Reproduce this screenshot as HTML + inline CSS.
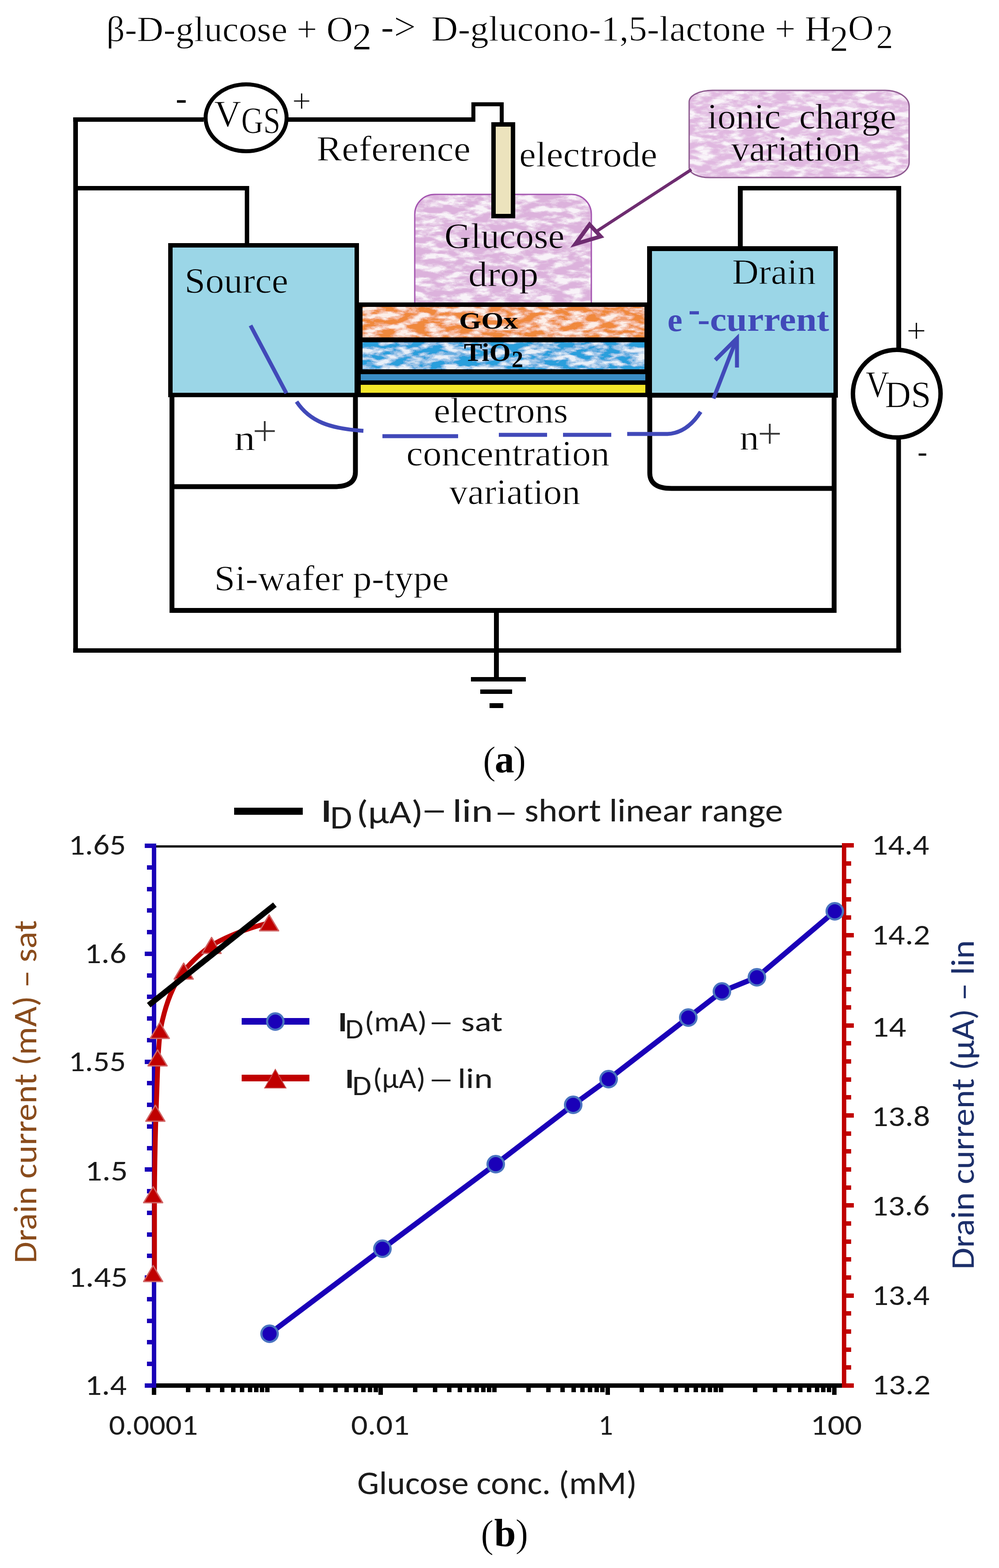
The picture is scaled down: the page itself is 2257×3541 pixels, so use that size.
<!DOCTYPE html>
<html><head><meta charset="utf-8"><title>Glucose FET sensor</title>
<style>html,body{margin:0;padding:0;background:#fff;}svg{display:block;}</style></head>
<body><svg width="2257" height="3541" viewBox="0 0 2257 3541">
<rect width="2257" height="3541" fill="#fff"/>
<defs>
<filter id="tex" x="0" y="0" width="100%" height="100%">
  <feTurbulence type="fractalNoise" baseFrequency="0.028 0.075" numOctaves="3" seed="7" result="n"/>
  <feColorMatrix in="n" type="matrix" values="0 0 0 0 1  0 0 0 0 1  0 0 0 0 1  -2.6 0 0 0 1.72" result="w"/>
  <feComponentTransfer in="w" result="w2"><feFuncA type="discrete" tableValues="0 0.12 0.32 0.55 0.8"/></feComponentTransfer>
  <feComposite in="w2" in2="SourceGraphic" operator="in" result="wc"/>
  <feMerge><feMergeNode in="SourceGraphic"/><feMergeNode in="wc"/></feMerge>
</filter>
</defs>
<text x="240.0" y="93.0" font-family="'Liberation Serif','Times New Roman',serif" font-size="80" fill="#000" font-weight="normal" text-anchor="start" textLength="557.12" lengthAdjust="spacingAndGlyphs"  stroke="#fff" stroke-width="1.0">β-D-glucose + O</text>
<text x="796.0" y="112.0" font-family="'Liberation Serif','Times New Roman',serif" font-size="87.73" fill="#000" font-weight="normal" text-anchor="start"  stroke="#fff" stroke-width="1.0">2</text>
<text x="860.6" y="90" font-family="'Liberation Serif','Times New Roman',serif" font-size="88.02" fill="#000" font-weight="normal" text-anchor="start"  stroke="#fff" stroke-width="1.0">-&gt;</text>
<text x="974.6" y="92.0" font-family="'Liberation Serif','Times New Roman',serif" font-size="80" fill="#000" font-weight="normal" text-anchor="start" textLength="903.57" lengthAdjust="spacingAndGlyphs"  stroke="#fff" stroke-width="1.0">D-glucono-1,5-lactone + H</text>
<text x="1875.0" y="115.0" font-family="'Liberation Serif','Times New Roman',serif" font-size="83.0" fill="#000" font-weight="normal" text-anchor="start"  stroke="#fff" stroke-width="1.0">2</text>
<text x="1916.0" y="90" font-family="'Liberation Serif','Times New Roman',serif" font-size="80" fill="#000" font-weight="normal" text-anchor="start"  stroke="#fff" stroke-width="1.0">O</text>
<text x="1979.6" y="109.0" font-family="'Liberation Serif','Times New Roman',serif" font-size="76.72" fill="#000" font-weight="normal" text-anchor="start"  stroke="#fff" stroke-width="1.0">2</text>
<rect x="165.5" y="265" width="294.5" height="10" fill="#000" />
<rect x="165.5" y="265" width="10.5" height="1209" fill="#000" />
<rect x="650" y="265" width="424" height="10" fill="#000" />
<rect x="1065" y="231" width="9" height="44" fill="#000" />
<rect x="1065" y="231" width="73" height="9" fill="#000" />
<rect x="1129" y="231" width="9" height="49" fill="#000" />
<rect x="165.5" y="1464" width="1870.0" height="10" fill="#000" />
<rect x="2025" y="420" width="11" height="370" fill="#000" />
<rect x="2025" y="990" width="10.5" height="484" fill="#000" />
<rect x="176" y="420" width="387" height="10" fill="#000" />
<rect x="553" y="420" width="10" height="132" fill="#000" />
<rect x="1667" y="420" width="369" height="10" fill="#000" />
<rect x="1667" y="420" width="11" height="140" fill="#000" />
<ellipse cx="556" cy="266" rx="91.5" ry="75.5" fill="#fff" stroke="#000" stroke-width="9"/>
<circle cx="2026" cy="889" r="99" fill="#fff" stroke="#000" stroke-width="10"/>
<path d="M1610 204 L2000 204 A54 36 0 0 1 2054 240 L2054 366 A50 35 0 0 1 2004 401 L1603 401 A46 22 0 0 1 1557 379 L1557 230 A53 26 0 0 1 1610 204 Z" fill="#e0b8e0" filter="url(#tex)"/>
<path d="M1610 204 L2000 204 A54 36 0 0 1 2054 240 L2054 366 A50 35 0 0 1 2004 401 L1603 401 A46 22 0 0 1 1557 379 L1557 230 A53 26 0 0 1 1610 204 Z" fill="none" stroke="#8e5a90" stroke-width="3"/>
<path d="M937 683 L937 484 A45 45 0 0 1 982 439 L1291 439 A45 45 0 0 1 1336 484 L1336 683 Z" fill="#dcb2dc" filter="url(#tex)"/>
<path d="M937 683 L937 484 A45 45 0 0 1 982 439 L1291 439 A45 45 0 0 1 1336 484 L1336 683" fill="none" stroke="#a455b0" stroke-width="3"/>
<rect x="1110" y="276" width="54" height="217" fill="#000" />
<rect x="1120" y="286" width="34" height="197" fill="#ece3bd" />
<rect x="380" y="549" width="431" height="348" fill="#000" />
<rect x="390" y="559" width="411" height="328" fill="#9bd6e7" />
<rect x="1462" y="556" width="431" height="342" fill="#000" />
<rect x="1473" y="567" width="410" height="320" fill="#9bd6e7" />
<rect x="811" y="683" width="651" height="214" fill="#000" />
<rect x="819" y="693" width="637" height="69" fill="#f0893c" filter="url(#tex)"/>
<rect x="819" y="773" width="637" height="61" fill="#2a9fdc" filter="url(#tex)"/>
<rect x="815" y="845" width="643" height="14" fill="#3a8cc4" />
<rect x="815" y="869" width="643" height="18" fill="#f2e62a" />
<rect x="383" y="897" width="11" height="487" fill="#000" />
<rect x="1879" y="898" width="11" height="486" fill="#000" />
<rect x="383" y="1373" width="1507" height="11" fill="#000" />
<path d="M803 897 L803 1066 Q803 1099 756 1099 L394 1099" stroke="#000" stroke-width="11" fill="none" />
<path d="M1468 897 L1468 1068 Q1468 1103 1517 1103 L1880 1103" stroke="#000" stroke-width="11" fill="none" />
<rect x="1116" y="1384" width="11" height="150" fill="#000" />
<rect x="1064" y="1529" width="124" height="10" fill="#000" />
<rect x="1085" y="1557" width="72" height="10" fill="#000" />
<rect x="1106" y="1588" width="31" height="11" fill="#000" />
<line x1="1562" y1="383" x2="1350" y2="521" stroke="#6e2c70" stroke-width="7" stroke-linecap="butt" />
<path d="M1300 551 L1332 507 L1357 534 Z" stroke="#6e2c70" stroke-width="9" fill="none" stroke-linejoin="miter"/>
<line x1="566" y1="735" x2="647" y2="888" stroke="#4149b9" stroke-width="9" stroke-linecap="butt" />
<path d="M670 907 C700 952 745 968 821 973" stroke="#4149b9" stroke-width="9" fill="none" />
<line x1="864" y1="985" x2="1035" y2="985" stroke="#4149b9" stroke-width="9" stroke-linecap="butt" />
<line x1="1127" y1="982" x2="1236" y2="982" stroke="#4149b9" stroke-width="9" stroke-linecap="butt" />
<line x1="1272" y1="982" x2="1381" y2="982" stroke="#4149b9" stroke-width="9" stroke-linecap="butt" />
<path d="M1417 980 L1508 980 Q1552 978 1583 930" stroke="#4149b9" stroke-width="9" fill="none" />
<line x1="1612" y1="900" x2="1663" y2="768" stroke="#4149b9" stroke-width="9" stroke-linecap="butt" />
<path d="M1616 813 L1665 764 L1665 830" stroke="#4149b9" stroke-width="9" fill="none" stroke-linejoin="miter"/>
<text x="397.0" y="247.0" font-family="'Liberation Serif','Times New Roman',serif" font-size="76" fill="#000" font-weight="normal" text-anchor="start" >-</text>
<text x="660.0" y="253.0" font-family="'Liberation Serif','Times New Roman',serif" font-size="76" fill="#000" font-weight="normal" text-anchor="start"  stroke="#fff" stroke-width="1.0">+</text>
<text x="484.0" y="286.0" font-family="'Liberation Serif','Times New Roman',serif" font-size="84" fill="#000" font-weight="normal" text-anchor="start" textLength="60.87" lengthAdjust="spacingAndGlyphs"  stroke="#fff" stroke-width="1.0">V</text>
<text x="545.0" y="301.0" font-family="'Liberation Serif','Times New Roman',serif" font-size="84" fill="#000" font-weight="normal" text-anchor="start" textLength="88.5" lengthAdjust="spacingAndGlyphs"  stroke="#fff" stroke-width="1.0">GS</text>
<text x="715.0" y="363.0" font-family="'Liberation Serif','Times New Roman',serif" font-size="80" fill="#000" font-weight="normal" text-anchor="start" textLength="348.14" lengthAdjust="spacingAndGlyphs"  stroke="#fff" stroke-width="1.0">Reference</text>
<text x="1173.0" y="376.0" font-family="'Liberation Serif','Times New Roman',serif" font-size="80" fill="#000" font-weight="normal" text-anchor="start" textLength="312.14" lengthAdjust="spacingAndGlyphs"  stroke="#fff" stroke-width="1.0">electrode</text>
<text x="1598.0" y="289.6" font-family="'Liberation Serif','Times New Roman',serif" font-size="80" fill="#000" font-weight="normal" text-anchor="start" textLength="427.06" lengthAdjust="spacingAndGlyphs" xml:space="preserve" stroke="#e2c0e2" stroke-width="1.0">ionic  charge</text>
<text x="1652.0" y="363.0" font-family="'Liberation Serif','Times New Roman',serif" font-size="80" fill="#000" font-weight="normal" text-anchor="start" textLength="292.03" lengthAdjust="spacingAndGlyphs"  stroke="#e2c0e2" stroke-width="1.0">variation</text>
<text x="1004.0" y="560.0" font-family="'Liberation Serif','Times New Roman',serif" font-size="80" fill="#000" font-weight="normal" text-anchor="start" textLength="271.13" lengthAdjust="spacingAndGlyphs"  stroke="#e2c0e2" stroke-width="1.0">Glucose</text>
<text x="1058.0" y="646.0" font-family="'Liberation Serif','Times New Roman',serif" font-size="80" fill="#000" font-weight="normal" text-anchor="start" textLength="158.37" lengthAdjust="spacingAndGlyphs"  stroke="#e2c0e2" stroke-width="1.0">drop</text>
<text x="417.0" y="661.0" font-family="'Liberation Serif','Times New Roman',serif" font-size="80" fill="#000" font-weight="normal" text-anchor="start" textLength="234.31" lengthAdjust="spacingAndGlyphs"  stroke="#9bd6e7" stroke-width="1.0">Source</text>
<text x="1654.0" y="641.0" font-family="'Liberation Serif','Times New Roman',serif" font-size="80" fill="#000" font-weight="normal" text-anchor="start" textLength="189.35" lengthAdjust="spacingAndGlyphs"  stroke="#9bd6e7" stroke-width="1.0">Drain</text>
<text x="1037.0" y="742.0" font-family="'Liberation Serif','Times New Roman',serif" font-size="52" fill="#000" font-weight="bold" text-anchor="start" textLength="133.03" lengthAdjust="spacingAndGlyphs" >GOx</text>
<text x="1048.0" y="815.0" font-family="'Liberation Serif','Times New Roman',serif" font-size="56" fill="#000" font-weight="bold" text-anchor="start" textLength="105.74" lengthAdjust="spacingAndGlyphs" >TiO</text>
<text x="1156" y="829" font-family="'Liberation Serif','Times New Roman',serif" font-size="52" fill="#000" font-weight="bold" text-anchor="start" >2</text>
<text x="1508.0" y="748.0" font-family="'Liberation Serif','Times New Roman',serif" font-size="76" fill="#4149b9" font-weight="bold" text-anchor="start" >e</text>
<text x="1555.0" y="726.0" font-family="'Liberation Serif','Times New Roman',serif" font-size="84" fill="#4149b9" font-weight="bold" text-anchor="start" textLength="27.0" lengthAdjust="spacingAndGlyphs" >-</text>
<text x="1576.0" y="747.0" font-family="'Liberation Serif','Times New Roman',serif" font-size="76" fill="#4149b9" font-weight="bold" text-anchor="start" textLength="297.11" lengthAdjust="spacingAndGlyphs" >-current</text>
<text x="2048.0" y="773.0" font-family="'Liberation Serif','Times New Roman',serif" font-size="79.09" fill="#000" font-weight="normal" text-anchor="start"  stroke="#fff" stroke-width="1.0">+</text>
<text x="2073.0" y="1042.0" font-family="'Liberation Serif','Times New Roman',serif" font-size="66" fill="#000" font-weight="normal" text-anchor="start" >-</text>
<text x="1956.0" y="897.0" font-family="'Liberation Serif','Times New Roman',serif" font-size="84" fill="#000" font-weight="normal" text-anchor="start" textLength="53.02" lengthAdjust="spacingAndGlyphs"  stroke="#fff" stroke-width="1.0">V</text>
<text x="1999.0" y="920.0" font-family="'Liberation Serif','Times New Roman',serif" font-size="84" fill="#000" font-weight="normal" text-anchor="start" textLength="104.57" lengthAdjust="spacingAndGlyphs"  stroke="#fff" stroke-width="1.0">DS</text>
<text x="529.0" y="1016.0" font-family="'Liberation Serif','Times New Roman',serif" font-size="80" fill="#000" font-weight="normal" text-anchor="start" textLength="47.74" lengthAdjust="spacingAndGlyphs"  stroke="#fff" stroke-width="1.0">n</text>
<text x="570.0" y="1007.0" font-family="'Liberation Serif','Times New Roman',serif" font-size="99.71" fill="#333" font-weight="normal" text-anchor="start"  stroke="#fff" stroke-width="1.0">+</text>
<text x="1671.0" y="1015.0" font-family="'Liberation Serif','Times New Roman',serif" font-size="80" fill="#000" font-weight="normal" text-anchor="start" textLength="44.0" lengthAdjust="spacingAndGlyphs"  stroke="#fff" stroke-width="1.0">n</text>
<text x="1711.0" y="1013.0" font-family="'Liberation Serif','Times New Roman',serif" font-size="99.71" fill="#333" font-weight="normal" text-anchor="start"  stroke="#fff" stroke-width="1.0">+</text>
<text x="980.0" y="954" font-family="'Liberation Serif','Times New Roman',serif" font-size="80" fill="#000" font-weight="normal" text-anchor="start" textLength="303.12" lengthAdjust="spacingAndGlyphs"  stroke="#fff" stroke-width="1.0">electrons</text>
<text x="918.0" y="1051" font-family="'Liberation Serif','Times New Roman',serif" font-size="80" fill="#000" font-weight="normal" text-anchor="start" textLength="459.14" lengthAdjust="spacingAndGlyphs"  stroke="#fff" stroke-width="1.0">concentration</text>
<text x="1015.0" y="1138" font-family="'Liberation Serif','Times New Roman',serif" font-size="80" fill="#000" font-weight="normal" text-anchor="start" textLength="296.22" lengthAdjust="spacingAndGlyphs"  stroke="#fff" stroke-width="1.0">variation</text>
<text x="484.0" y="1333.0" font-family="'Liberation Serif','Times New Roman',serif" font-size="80" fill="#000" font-weight="normal" text-anchor="start" textLength="530.09" lengthAdjust="spacingAndGlyphs"  stroke="#fff" stroke-width="1.0">Si-wafer p-type</text>
<text x="1090.8" y="1747.0" font-family="'Liberation Serif','Times New Roman',serif" font-size="88" fill="#000" font-weight="normal" text-anchor="start"  stroke="#fff" stroke-width="1.0">(</text>
<text x="1117.8" y="1744.2" font-family="'Liberation Serif','Times New Roman',serif" font-size="88" fill="#000" font-weight="bold" text-anchor="start" >a</text>
<text x="1159.2" y="1746" font-family="'Liberation Serif','Times New Roman',serif" font-size="88" fill="#000" font-weight="normal" text-anchor="start"  stroke="#fff" stroke-width="1.0">)</text>
<rect x="348" y="1909" width="1559" height="5" fill="#000" />
<rect x="343" y="3124" width="1569" height="10" fill="#000" />
<rect x="420" y="3134" width="10" height="10" fill="#000" />
<rect x="465" y="3134" width="10" height="10" fill="#000" />
<rect x="497" y="3134" width="10" height="10" fill="#000" />
<rect x="522" y="3134" width="10" height="10" fill="#000" />
<rect x="542" y="3134" width="10" height="10" fill="#000" />
<rect x="560" y="3134" width="10" height="10" fill="#000" />
<rect x="574" y="3134" width="10" height="10" fill="#000" />
<rect x="587" y="3134" width="10" height="10" fill="#000" />
<rect x="676" y="3134" width="10" height="10" fill="#000" />
<rect x="721" y="3134" width="10" height="10" fill="#000" />
<rect x="753" y="3134" width="10" height="10" fill="#000" />
<rect x="778" y="3134" width="10" height="10" fill="#000" />
<rect x="799" y="3134" width="10" height="10" fill="#000" />
<rect x="816" y="3134" width="10" height="10" fill="#000" />
<rect x="831" y="3134" width="10" height="10" fill="#000" />
<rect x="844" y="3134" width="10" height="10" fill="#000" />
<rect x="933" y="3134" width="10" height="10" fill="#000" />
<rect x="978" y="3134" width="10" height="10" fill="#000" />
<rect x="1010" y="3134" width="10" height="10" fill="#000" />
<rect x="1034" y="3134" width="10" height="10" fill="#000" />
<rect x="1055" y="3134" width="10" height="10" fill="#000" />
<rect x="1072" y="3134" width="10" height="10" fill="#000" />
<rect x="1087" y="3134" width="10" height="10" fill="#000" />
<rect x="1100" y="3134" width="10" height="10" fill="#000" />
<rect x="1189" y="3134" width="10" height="10" fill="#000" />
<rect x="1234" y="3134" width="10" height="10" fill="#000" />
<rect x="1266" y="3134" width="10" height="10" fill="#000" />
<rect x="1291" y="3134" width="10" height="10" fill="#000" />
<rect x="1311" y="3134" width="10" height="10" fill="#000" />
<rect x="1328" y="3134" width="10" height="10" fill="#000" />
<rect x="1343" y="3134" width="10" height="10" fill="#000" />
<rect x="1356" y="3134" width="10" height="10" fill="#000" />
<rect x="1445" y="3134" width="10" height="10" fill="#000" />
<rect x="1490" y="3134" width="10" height="10" fill="#000" />
<rect x="1522" y="3134" width="10" height="10" fill="#000" />
<rect x="1547" y="3134" width="10" height="10" fill="#000" />
<rect x="1567" y="3134" width="10" height="10" fill="#000" />
<rect x="1584" y="3134" width="10" height="10" fill="#000" />
<rect x="1599" y="3134" width="10" height="10" fill="#000" />
<rect x="1612" y="3134" width="10" height="10" fill="#000" />
<rect x="1701" y="3134" width="10" height="10" fill="#000" />
<rect x="1746" y="3134" width="10" height="10" fill="#000" />
<rect x="1778" y="3134" width="10" height="10" fill="#000" />
<rect x="1803" y="3134" width="10" height="10" fill="#000" />
<rect x="1823" y="3134" width="10" height="10" fill="#000" />
<rect x="1841" y="3134" width="10" height="10" fill="#000" />
<rect x="1855" y="3134" width="10" height="10" fill="#000" />
<rect x="1868" y="3134" width="10" height="10" fill="#000" />
<rect x="343" y="3134" width="10" height="16" fill="#000" />
<rect x="599" y="3134" width="10" height="10" fill="#000" />
<rect x="855" y="3134" width="10" height="16" fill="#000" />
<rect x="1112" y="3134" width="10" height="10" fill="#000" />
<rect x="1368" y="3134" width="10" height="16" fill="#000" />
<rect x="1624" y="3134" width="10" height="10" fill="#000" />
<rect x="1880" y="3134" width="10" height="16" fill="#000" />
<rect x="343" y="1905" width="10" height="1229" fill="#1a00b8" />
<rect x="327" y="3124" width="26" height="10" fill="#1a00b8" />
<rect x="332" y="3075" width="21" height="10" fill="#1a00b8" />
<rect x="332" y="3026" width="21" height="10" fill="#1a00b8" />
<rect x="332" y="2978" width="21" height="10" fill="#1a00b8" />
<rect x="332" y="2929" width="21" height="10" fill="#1a00b8" />
<rect x="327" y="2880" width="26" height="10" fill="#1a00b8" />
<rect x="332" y="2831" width="21" height="10" fill="#1a00b8" />
<rect x="332" y="2783" width="21" height="10" fill="#1a00b8" />
<rect x="332" y="2734" width="21" height="10" fill="#1a00b8" />
<rect x="332" y="2685" width="21" height="10" fill="#1a00b8" />
<rect x="327" y="2636" width="26" height="10" fill="#1a00b8" />
<rect x="332" y="2588" width="21" height="10" fill="#1a00b8" />
<rect x="332" y="2539" width="21" height="10" fill="#1a00b8" />
<rect x="332" y="2490" width="21" height="10" fill="#1a00b8" />
<rect x="332" y="2441" width="21" height="10" fill="#1a00b8" />
<rect x="327" y="2393" width="26" height="10" fill="#1a00b8" />
<rect x="332" y="2344" width="21" height="10" fill="#1a00b8" />
<rect x="332" y="2295" width="21" height="10" fill="#1a00b8" />
<rect x="332" y="2246" width="21" height="10" fill="#1a00b8" />
<rect x="332" y="2198" width="21" height="10" fill="#1a00b8" />
<rect x="327" y="2149" width="26" height="10" fill="#1a00b8" />
<rect x="332" y="2100" width="21" height="10" fill="#1a00b8" />
<rect x="332" y="2051" width="21" height="10" fill="#1a00b8" />
<rect x="332" y="2003" width="21" height="10" fill="#1a00b8" />
<rect x="332" y="1954" width="21" height="10" fill="#1a00b8" />
<rect x="327" y="1905" width="26" height="10" fill="#1a00b8" />
<rect x="1902" y="1904" width="10" height="1230" fill="#c00000" />
<rect x="1902" y="3124" width="27" height="10" fill="#c00000" />
<rect x="1902" y="3083" width="21" height="10" fill="#c00000" />
<rect x="1902" y="3043" width="21" height="10" fill="#c00000" />
<rect x="1902" y="3002" width="21" height="10" fill="#c00000" />
<rect x="1902" y="2961" width="21" height="10" fill="#c00000" />
<rect x="1902" y="2921" width="27" height="10" fill="#c00000" />
<rect x="1902" y="2880" width="21" height="10" fill="#c00000" />
<rect x="1902" y="2839" width="21" height="10" fill="#c00000" />
<rect x="1902" y="2799" width="21" height="10" fill="#c00000" />
<rect x="1902" y="2758" width="21" height="10" fill="#c00000" />
<rect x="1902" y="2717" width="27" height="10" fill="#c00000" />
<rect x="1902" y="2677" width="21" height="10" fill="#c00000" />
<rect x="1902" y="2636" width="21" height="10" fill="#c00000" />
<rect x="1902" y="2595" width="21" height="10" fill="#c00000" />
<rect x="1902" y="2555" width="21" height="10" fill="#c00000" />
<rect x="1902" y="2514" width="27" height="10" fill="#c00000" />
<rect x="1902" y="2473" width="21" height="10" fill="#c00000" />
<rect x="1902" y="2433" width="21" height="10" fill="#c00000" />
<rect x="1902" y="2392" width="21" height="10" fill="#c00000" />
<rect x="1902" y="2351" width="21" height="10" fill="#c00000" />
<rect x="1902" y="2311" width="27" height="10" fill="#c00000" />
<rect x="1902" y="2270" width="21" height="10" fill="#c00000" />
<rect x="1902" y="2229" width="21" height="10" fill="#c00000" />
<rect x="1902" y="2189" width="21" height="10" fill="#c00000" />
<rect x="1902" y="2148" width="21" height="10" fill="#c00000" />
<rect x="1902" y="2107" width="27" height="10" fill="#c00000" />
<rect x="1902" y="2067" width="21" height="10" fill="#c00000" />
<rect x="1902" y="2026" width="21" height="10" fill="#c00000" />
<rect x="1902" y="1985" width="21" height="10" fill="#c00000" />
<rect x="1902" y="1945" width="21" height="10" fill="#c00000" />
<rect x="1902" y="1904" width="27" height="10" fill="#c00000" />
<path d="M349 2876 L349 2698 C349.5 2620 351 2560 352.5 2514 C354.5 2460 355.5 2420 357 2389 C359 2360 360 2345 362 2327 C371 2280 386 2230 415 2193 C435 2170 455 2150 478 2135 C520 2110 565 2095 608 2084" stroke="#c00000" stroke-width="11" fill="none" />
<path d="M346 2858 L367.5 2894 L324.5 2894 Z" fill="#c00000" stroke="#d06464" stroke-width="3" stroke-linejoin="round"/>
<path d="M346 2680 L367.5 2716 L324.5 2716 Z" fill="#c00000" stroke="#d06464" stroke-width="3" stroke-linejoin="round"/>
<path d="M351 2496 L372.5 2532 L329.5 2532 Z" fill="#c00000" stroke="#d06464" stroke-width="3" stroke-linejoin="round"/>
<path d="M356 2371 L377.5 2407 L334.5 2407 Z" fill="#c00000" stroke="#d06464" stroke-width="3" stroke-linejoin="round"/>
<path d="M361 2309 L382.5 2345 L339.5 2345 Z" fill="#c00000" stroke="#d06464" stroke-width="3" stroke-linejoin="round"/>
<path d="M415 2175 L436.5 2211 L393.5 2211 Z" fill="#c00000" stroke="#d06464" stroke-width="3" stroke-linejoin="round"/>
<path d="M478 2117 L499.5 2153 L456.5 2153 Z" fill="#c00000" stroke="#d06464" stroke-width="3" stroke-linejoin="round"/>
<path d="M608 2066 L629.5 2102 L586.5 2102 Z" fill="#c00000" stroke="#d06464" stroke-width="3" stroke-linejoin="round"/>
<line x1="336" y1="2270" x2="621" y2="2043" stroke="#000" stroke-width="13" stroke-linecap="butt" />
<path d="M609 3012 L864 2820 L1120 2629 L1295 2495 L1375 2437 L1555 2298 L1631 2239 L1710 2207 L1886 2058" stroke="#1a00b8" stroke-width="12" fill="none" stroke-linejoin="round"/>
<circle cx="609" cy="3012" r="18.5" fill="#1a00b8" stroke="#4a74c0" stroke-width="5"/>
<circle cx="864" cy="2820" r="18.5" fill="#1a00b8" stroke="#4a74c0" stroke-width="5"/>
<circle cx="1120" cy="2629" r="18.5" fill="#1a00b8" stroke="#4a74c0" stroke-width="5"/>
<circle cx="1295" cy="2495" r="18.5" fill="#1a00b8" stroke="#4a74c0" stroke-width="5"/>
<circle cx="1375" cy="2437" r="18.5" fill="#1a00b8" stroke="#4a74c0" stroke-width="5"/>
<circle cx="1555" cy="2298" r="18.5" fill="#1a00b8" stroke="#4a74c0" stroke-width="5"/>
<circle cx="1631" cy="2239" r="18.5" fill="#1a00b8" stroke="#4a74c0" stroke-width="5"/>
<circle cx="1710" cy="2207" r="18.5" fill="#1a00b8" stroke="#4a74c0" stroke-width="5"/>
<circle cx="1886" cy="2058" r="18.5" fill="#1a00b8" stroke="#4a74c0" stroke-width="5"/>
<text x="155.0" y="1930.0" font-family="Carlito,Calibri,'Liberation Sans',sans-serif" font-size="65" fill="#1b1b1b" font-weight="normal" text-anchor="start" textLength="129.59" lengthAdjust="spacingAndGlyphs" >1.65</text>
<text x="191.0" y="2175.0" font-family="Carlito,Calibri,'Liberation Sans',sans-serif" font-size="65" fill="#1b1b1b" font-weight="normal" text-anchor="start" textLength="94.51" lengthAdjust="spacingAndGlyphs" >1.6</text>
<text x="155.0" y="2419.0" font-family="Carlito,Calibri,'Liberation Sans',sans-serif" font-size="65" fill="#1b1b1b" font-weight="normal" text-anchor="start" textLength="129.59" lengthAdjust="spacingAndGlyphs" >1.55</text>
<text x="192.0" y="2666.0" font-family="Carlito,Calibri,'Liberation Sans',sans-serif" font-size="65" fill="#1b1b1b" font-weight="normal" text-anchor="start" textLength="96.83" lengthAdjust="spacingAndGlyphs" >1.5</text>
<text x="155.0" y="2906.0" font-family="Carlito,Calibri,'Liberation Sans',sans-serif" font-size="65" fill="#1b1b1b" font-weight="normal" text-anchor="start" textLength="133.57" lengthAdjust="spacingAndGlyphs" >1.45</text>
<text x="192.0" y="3150.0" font-family="Carlito,Calibri,'Liberation Sans',sans-serif" font-size="65" fill="#1b1b1b" font-weight="normal" text-anchor="start" textLength="94.29" lengthAdjust="spacingAndGlyphs" >1.4</text>
<text x="1969.0" y="1930.0" font-family="Carlito,Calibri,'Liberation Sans',sans-serif" font-size="65" fill="#1b1b1b" font-weight="normal" text-anchor="start" textLength="130.2" lengthAdjust="spacingAndGlyphs" >14.4</text>
<text x="1969.0" y="2133.0" font-family="Carlito,Calibri,'Liberation Sans',sans-serif" font-size="65" fill="#1b1b1b" font-weight="normal" text-anchor="start" textLength="132.42" lengthAdjust="spacingAndGlyphs" >14.2</text>
<text x="1969.0" y="2341.0" font-family="Carlito,Calibri,'Liberation Sans',sans-serif" font-size="65" fill="#1b1b1b" font-weight="normal" text-anchor="start" textLength="78.36" lengthAdjust="spacingAndGlyphs" >14</text>
<text x="1969.0" y="2543.0" font-family="Carlito,Calibri,'Liberation Sans',sans-serif" font-size="65" fill="#1b1b1b" font-weight="normal" text-anchor="start" textLength="132.42" lengthAdjust="spacingAndGlyphs" >13.8</text>
<text x="1969.0" y="2745.0" font-family="Carlito,Calibri,'Liberation Sans',sans-serif" font-size="65" fill="#1b1b1b" font-weight="normal" text-anchor="start" textLength="131.34" lengthAdjust="spacingAndGlyphs" >13.6</text>
<text x="1970.0" y="2947.0" font-family="Carlito,Calibri,'Liberation Sans',sans-serif" font-size="65" fill="#1b1b1b" font-weight="normal" text-anchor="start" textLength="130.2" lengthAdjust="spacingAndGlyphs" >13.4</text>
<text x="1970.0" y="3149.0" font-family="Carlito,Calibri,'Liberation Sans',sans-serif" font-size="65" fill="#1b1b1b" font-weight="normal" text-anchor="start" textLength="132.42" lengthAdjust="spacingAndGlyphs" >13.2</text>
<text x="246.0" y="3240.0" font-family="Carlito,Calibri,'Liberation Sans',sans-serif" font-size="65" fill="#1b1b1b" font-weight="normal" text-anchor="start" textLength="201.0" lengthAdjust="spacingAndGlyphs" >0.0001</text>
<text x="793.0" y="3240.0" font-family="Carlito,Calibri,'Liberation Sans',sans-serif" font-size="65" fill="#1b1b1b" font-weight="normal" text-anchor="start" textLength="132.08" lengthAdjust="spacingAndGlyphs" >0.01</text>
<text x="1352.0" y="3240.0" font-family="Carlito,Calibri,'Liberation Sans',sans-serif" font-size="65" fill="#1b1b1b" font-weight="normal" text-anchor="start" >1</text>
<text x="1831.0" y="3240.0" font-family="Carlito,Calibri,'Liberation Sans',sans-serif" font-size="65" fill="#1b1b1b" font-weight="normal" text-anchor="start" textLength="116.25" lengthAdjust="spacingAndGlyphs" >100</text>
<text x="807.0" y="3374.0" font-family="Carlito,Calibri,'Liberation Sans',sans-serif" font-size="73" fill="#1b1b1b" font-weight="normal" text-anchor="start" textLength="632.08" lengthAdjust="spacingAndGlyphs" >Glucose conc. (mM)</text>
<text transform="translate(82 2853) rotate(-90)" x="0" y="0" font-family="Carlito,Calibri,'Liberation Sans',sans-serif" font-size="73" fill="#8a4c1c" textLength="775" lengthAdjust="spacingAndGlyphs">Drain current (mA) – sat</text>
<text transform="translate(2200 2867) rotate(-90)" x="0" y="0" font-family="Carlito,Calibri,'Liberation Sans',sans-serif" font-size="73" fill="#1c2f6a" textLength="744" lengthAdjust="spacingAndGlyphs">Drain current (µA) – lin</text>
<rect x="529" y="1824" width="155" height="16" fill="#000" />
<text x="722.0" y="1856.0" font-family="Carlito,Calibri,'Liberation Sans',sans-serif" font-size="73" fill="#1b1b1b" font-weight="normal" text-anchor="start" textLength="30.56" lengthAdjust="spacingAndGlyphs" >I</text>
<text x="746.0" y="1871.0" font-family="Carlito,Calibri,'Liberation Sans',sans-serif" font-size="73" fill="#1b1b1b" font-weight="normal" text-anchor="start" textLength="49.63" lengthAdjust="spacingAndGlyphs" >D</text>
<text x="805.2" y="1859.0" font-family="Carlito,Calibri,'Liberation Sans',sans-serif" font-size="73" fill="#1b1b1b" font-weight="normal" text-anchor="start" textLength="150.61" lengthAdjust="spacingAndGlyphs" >(µA)</text>
<text x="950.8" y="1852.6" font-family="Carlito,Calibri,'Liberation Sans',sans-serif" font-size="73" fill="#1b1b1b" font-weight="normal" text-anchor="start" textLength="60.63" lengthAdjust="spacingAndGlyphs" >–</text>
<text x="1022.2" y="1856.0" font-family="Carlito,Calibri,'Liberation Sans',sans-serif" font-size="73" fill="#1b1b1b" font-weight="normal" text-anchor="start" textLength="91.66" lengthAdjust="spacingAndGlyphs" >lin</text>
<text x="1116.8" y="1857.8" font-family="Carlito,Calibri,'Liberation Sans',sans-serif" font-size="73" fill="#1b1b1b" font-weight="normal" text-anchor="start" textLength="53.18" lengthAdjust="spacingAndGlyphs" >–</text>
<text x="1185.0" y="1855" font-family="Carlito,Calibri,'Liberation Sans',sans-serif" font-size="73" fill="#1b1b1b" font-weight="normal" text-anchor="start" textLength="583.86" lengthAdjust="spacingAndGlyphs" >short linear range</text>
<rect x="546" y="2299" width="153" height="15" fill="#1a00b8" />
<circle cx="622" cy="2307" r="18.5" fill="#1a00b8" stroke="#4a74c0" stroke-width="5"/>
<text x="760.0" y="2329.0" font-family="Carlito,Calibri,'Liberation Sans',sans-serif" font-size="64" fill="#1b1b1b" font-weight="normal" text-anchor="start" textLength="28.06" lengthAdjust="spacingAndGlyphs" >I</text>
<text x="780.0" y="2345.0" font-family="Carlito,Calibri,'Liberation Sans',sans-serif" font-size="64" fill="#1b1b1b" font-weight="normal" text-anchor="start" textLength="40.9" lengthAdjust="spacingAndGlyphs" >D</text>
<text x="823.6" y="2329" font-family="Carlito,Calibri,'Liberation Sans',sans-serif" font-size="64" fill="#1b1b1b" font-weight="normal" text-anchor="start" textLength="141.26" lengthAdjust="spacingAndGlyphs" >(mA)</text>
<text x="967.0" y="2329.2" font-family="Carlito,Calibri,'Liberation Sans',sans-serif" font-size="64" fill="#1b1b1b" font-weight="normal" text-anchor="start" textLength="59.16" lengthAdjust="spacingAndGlyphs" >–</text>
<text x="1041.6" y="2329.0" font-family="Carlito,Calibri,'Liberation Sans',sans-serif" font-size="64" fill="#1b1b1b" font-weight="normal" text-anchor="start" textLength="94.12" lengthAdjust="spacingAndGlyphs" >sat</text>
<rect x="546" y="2427" width="153" height="15" fill="#c00000" />
<path d="M622 2415 L646 2457 L598 2457 Z" fill="#c00000" stroke="#c84a4a" stroke-width="2"/>
<text x="776.0" y="2457.0" font-family="Carlito,Calibri,'Liberation Sans',sans-serif" font-size="64" fill="#1b1b1b" font-weight="normal" text-anchor="start" textLength="27.48" lengthAdjust="spacingAndGlyphs" >I</text>
<text x="796.0" y="2473.0" font-family="Carlito,Calibri,'Liberation Sans',sans-serif" font-size="64" fill="#1b1b1b" font-weight="normal" text-anchor="start" textLength="43.2" lengthAdjust="spacingAndGlyphs" >D</text>
<text x="842.2" y="2457" font-family="Carlito,Calibri,'Liberation Sans',sans-serif" font-size="64" fill="#1b1b1b" font-weight="normal" text-anchor="start" textLength="119.35" lengthAdjust="spacingAndGlyphs" >(µA)</text>
<text x="967.0" y="2457.8" font-family="Carlito,Calibri,'Liberation Sans',sans-serif" font-size="64" fill="#1b1b1b" font-weight="normal" text-anchor="start" textLength="59.16" lengthAdjust="spacingAndGlyphs" >–</text>
<text x="1034.0" y="2457.0" font-family="Carlito,Calibri,'Liberation Sans',sans-serif" font-size="64" fill="#1b1b1b" font-weight="normal" text-anchor="start" textLength="79.29" lengthAdjust="spacingAndGlyphs" >lin</text>
<text x="1086.0" y="3494.0" font-family="'Liberation Serif','Times New Roman',serif" font-size="88" fill="#000" font-weight="normal" text-anchor="start"  stroke="#fff" stroke-width="1.0">(</text>
<text x="1116.4" y="3492.0" font-family="'Liberation Serif','Times New Roman',serif" font-size="88" fill="#000" font-weight="bold" text-anchor="start" >b</text>
<text x="1164.2" y="3492" font-family="'Liberation Serif','Times New Roman',serif" font-size="88" fill="#000" font-weight="normal" text-anchor="start"  stroke="#fff" stroke-width="1.0">)</text>
</svg></body></html>
